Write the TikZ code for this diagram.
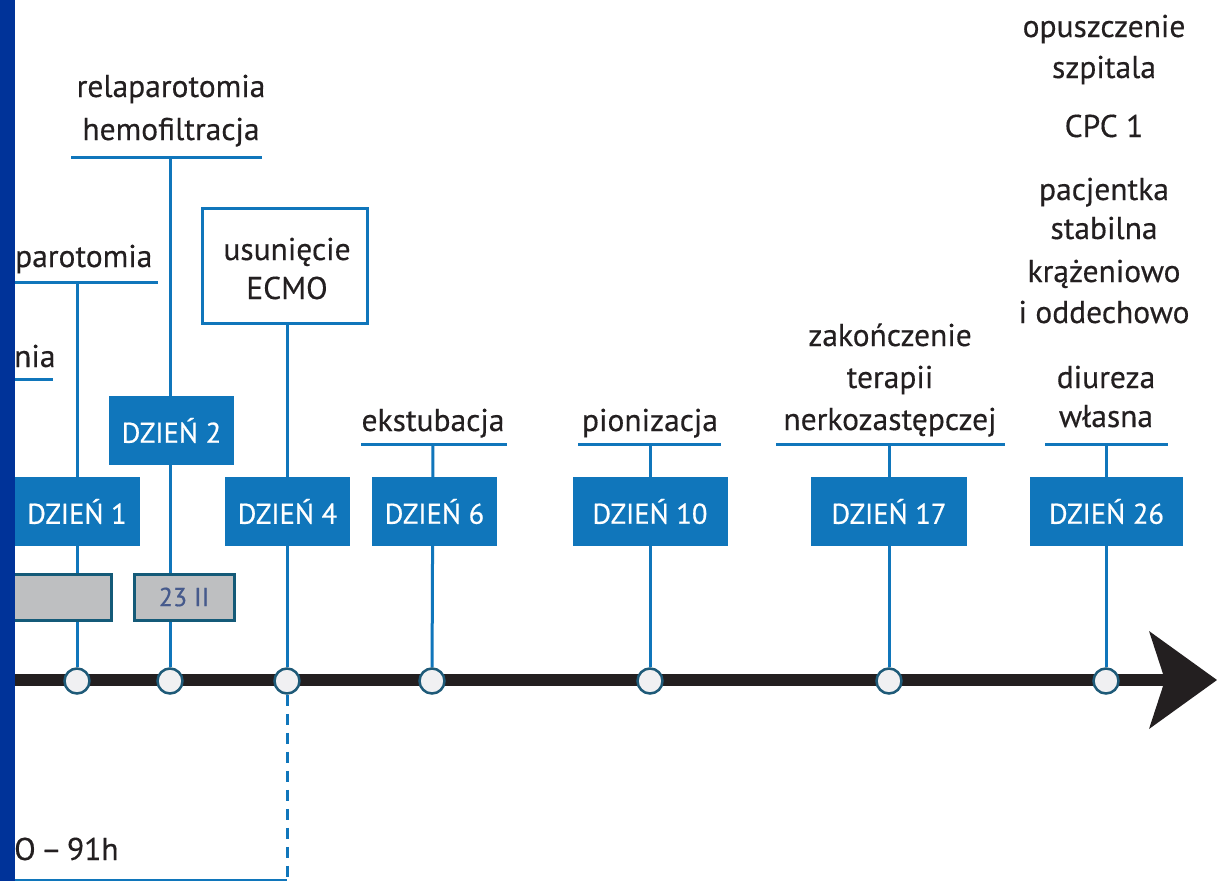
\documentclass[tikz,border=0pt]{standalone}
\usepackage{fontspec}
\setmainfont{PT Sans}
\newfontfamily\lblfont{PT Sans}[FakeBold=0.35]
\newfontfamily\dayfont{PT Sans}[FakeBold=0.6]
\usetikzlibrary{backgrounds}
\definecolor{tblue}{RGB}{16,118,187}
\definecolor{strip}{RGB}{0,51,153}
\definecolor{ink}{RGB}{35,31,32}
\definecolor{dotb}{RGB}{30,90,120}
\definecolor{dotf}{RGB}{240,240,242}
\definecolor{gfill}{RGB}{190,191,193}
\definecolor{gborder}{RGB}{20,90,120}
\definecolor{gtext}{RGB}{70,90,140}
\begin{document}
\begin{tikzpicture}[x=1pt,y=-1pt,
  lbl/.style={anchor=base,font=\lblfont\fontsize{31.5}{36}\selectfont,text=ink,inner sep=0pt},
  daybox/.style={fill=tblue,text=white,minimum width=125pt,minimum height=69pt,inner sep=0pt,font=\dayfont\fontsize{28.5}{32}\selectfont},
  conn/.style={draw=tblue,line width=3pt},
  dot/.style={circle,draw=dotb,fill=dotf,line width=2.5pt,minimum size=25pt,inner sep=0pt},
  gbox/.style={draw=gborder,fill=gfill,line width=3pt,minimum height=46pt,inner sep=0pt,text=gtext,font=\dayfont\fontsize{26}{30}\selectfont}
]
\useasboundingbox (0,0) rectangle (1217,881);

% circles on the timeline
\node[dot] (c1) at (77,681) {};
\node[dot] (c2) at (170,681) {};
\node[dot] (c4) at (287,681) {};
\node[dot] (c6) at (432,681) {};
\node[dot] (c10) at (650,681) {};
\node[dot] (c17) at (889,681) {};
\node[dot] (c26) at (1106,681) {};

% day boxes
\node[daybox] (d1) at (77,511.5) {DZIEŃ 1};
\node[daybox] (d2) at (171.5,430.5) {DZIEŃ 2};
\node[daybox] (d4) at (287.5,511.5) {DZIEŃ 4};
\node[daybox] (d6) at (434.5,511.5) {DZIEŃ 6};
\node[daybox,minimum width=155pt] (d10) at (650,511.5) {DZIEŃ 10};
\node[daybox,minimum width=156pt] (d17) at (889,511.5) {DZIEŃ 17};
\node[daybox,minimum width=153pt] (d26) at (1106.5,511.5) {DZIEŃ 26};

% grey date boxes
\node[gbox,minimum width=106pt] (g1) at (58,597) {};
\node[gbox,minimum width=100pt] (g2) at (184,597) {23 II};

% ECMO box
\node[draw=tblue,line width=3pt,fill=white,minimum width=165pt,minimum height=115pt,inner sep=0pt] (ecmo) at (284.5,265.5) {};
\node[lbl] (t-ecmo1) at (287,260) {usunięcie};
\node[lbl] (t-ecmo2) at (287,299) {ECMO};

% underline coordinates
\coordinate (u1) at (77,282);
\coordinate (u2) at (170,157);
\coordinate (u6) at (433,444);
\coordinate (u10) at (650,444);
\coordinate (u17) at (889,444);
\coordinate (u26) at (1106,444);
\coordinate (ecmoend) at (287,881);
\coordinate (bl) at (15,880);
\coordinate (br) at (287,880);

% labels
\node[lbl] (t-rel1) at (171,97) {relaparotomia};
\node[lbl] (t-rel2) at (171,140) {hemofiltracja};
\node[lbl] (t-eks) at (433,431) {ekstubacja};
\node[lbl] (t-pio) at (650,431) {pionizacja};
\node[lbl] (t-zak1) at (890,346) {zakończenie};
\node[lbl] (t-zak2) at (890,388) {terapii};
\node[lbl] (t-zak3) at (890,430) {nerkozastępczej};
\node[lbl] (t-diu1) at (1106,388) {diureza};
\node[lbl] (t-diu2) at (1106,427) {własna};
\node[lbl] (t-opu1) at (1104,37) {opuszczenie};
\node[lbl] (t-opu2) at (1104,78) {szpitala};
\node[lbl] (t-cpc) at (1104,137) {CPC 1};
\node[lbl] (t-pac1) at (1104,200) {pacjentka};
\node[lbl] (t-pac2) at (1104,239) {stabilna};
\node[lbl] (t-pac3) at (1104,282) {krążeniowo};
\node[lbl] (t-pac4) at (1104,323) {i oddechowo};
\node[lbl,anchor=base west] (t-lap) at (15,267) {parotomia};
\node[lbl,anchor=base west] (t-nia) at (14,367) {nia};
\node[lbl,anchor=base west] (t-91) at (14,860) {O\,–\,91h};

% arrow head
\fill[ink] (1149,631) -- (1217,680) -- (1149,729) -- (1165,680) -- cycle;

\begin{scope}[on background layer]
\fill[white] (0,0) rectangle (1217,881);
% underlines
\draw[conn] (5,282) -- (158,282);
\draw[conn] (5,379) -- (53,379);
\draw[conn] (71,157) -- (262,157);
\draw[conn] (361,444) -- (507,444);
\draw[conn] (578,444) -- (721,444);
\draw[conn] (776,444) -- (1005,444);
\draw[conn] (1045,444) -- (1168,444);
% verticals
\draw[conn] (u1) -- (c1);
\draw[conn] (u2) -- (c2);
\draw[conn] (ecmo.south -| c4) -- (c4);
\draw[conn] (u6) -- (c6);
\draw[conn] (u10) -- (c10);
\draw[conn] (u17) -- (c17);
\draw[conn] (u26) -- (c26);
\draw[conn,dash pattern=on 11pt off 8pt] (c4.south) -- (ecmoend);
\draw[tblue,line width=2pt] (bl) -- (br);
% timeline
\draw[ink,line width=12pt] (5,680) -- (1168,680);
\end{scope}

\fill[strip] (0,0) rectangle (15,881);
\end{tikzpicture}
\end{document}
